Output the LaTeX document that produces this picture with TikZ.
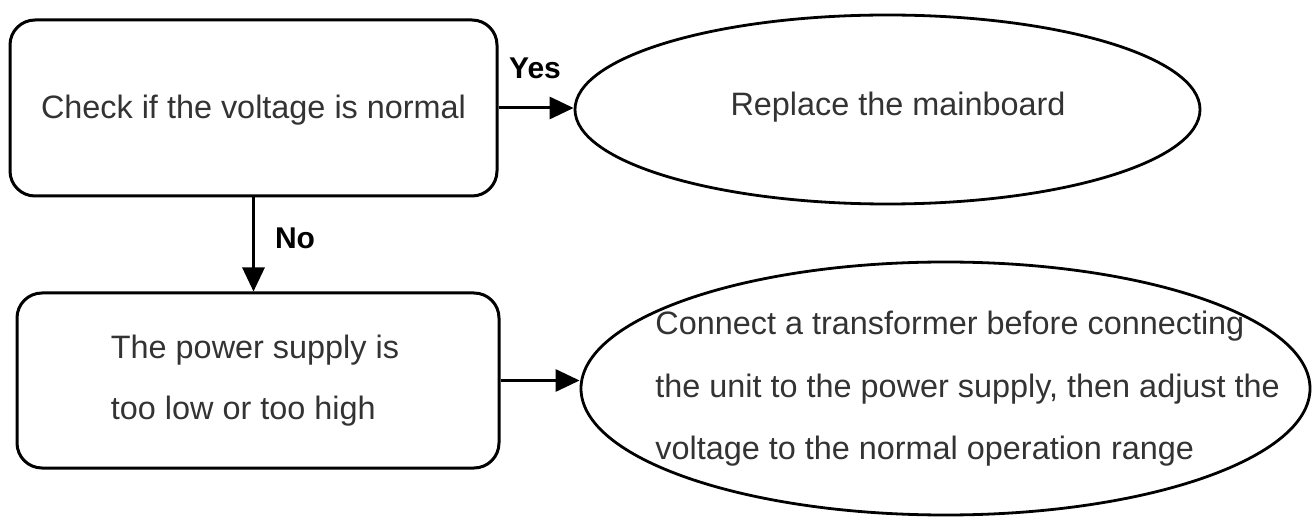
\documentclass[tikz,border=0pt]{standalone}
\usepackage{fontspec}
\setmainfont{Liberation Sans}
\usetikzlibrary{arrows.meta,shapes.geometric}
\definecolor{txt}{HTML}{333333}
\begin{document}
\begin{tikzpicture}[x=0.5pt,y=-0.5pt,
  every node/.style={font=\fontsize{16.2pt}{30.5pt}\selectfont, text=txt},
  rbox/.style={draw=black, line width=1.5pt, rounded corners=12.5pt, inner sep=0pt},
  oval/.style={draw=black, line width=1.4pt, ellipse, inner sep=0pt},
  lbl/.style={font=\fontsize{15pt}{18pt}\selectfont\bfseries, text=black},
  conn/.style={line width=1.5pt, -{Triangle[length=12pt,width=11pt]}}]
\useasboundingbox (0,0) rectangle (1312,518);
\node[rbox, minimum width=243.5pt, minimum height=88pt] (b1) at (253.5,108) {};
\node (t1) at (253.5,110) {Check if the voltage is normal};
\node[oval, minimum width=312.5pt, minimum height=94.5pt] (e1) at (887.5,109.5) {};
\node (t2) at (898,107) {Replace the mainboard};
\node[rbox, minimum width=241pt, minimum height=87.5pt] (b2) at (258,380.5) {};
\node[align=left] (t3) at (255,381) {The power supply is\\too low or too high};
\node[oval, minimum width=364.5pt, minimum height=126.5pt] (e2) at (945.5,388.5) {};
\node[align=left, anchor=west, inner sep=0pt, font=\fontsize{16.2pt}{31.3pt}\selectfont] (t4) at (655,389) {Connect a transformer before connecting\\the unit to the power supply, then adjust the\\voltage to the normal operation range};
\draw[conn] (b1.east) -- (b1.east -| e1.west);
\draw[conn] (b1.south) -- (b1.south |- b2.north);
\draw[conn] (b2.east) -- (b2.east -| e2.west);
\node[lbl] (yes) at (535,68) {Yes};
\node[lbl] (no) at (295,238) {No};
\end{tikzpicture}
\end{document}
